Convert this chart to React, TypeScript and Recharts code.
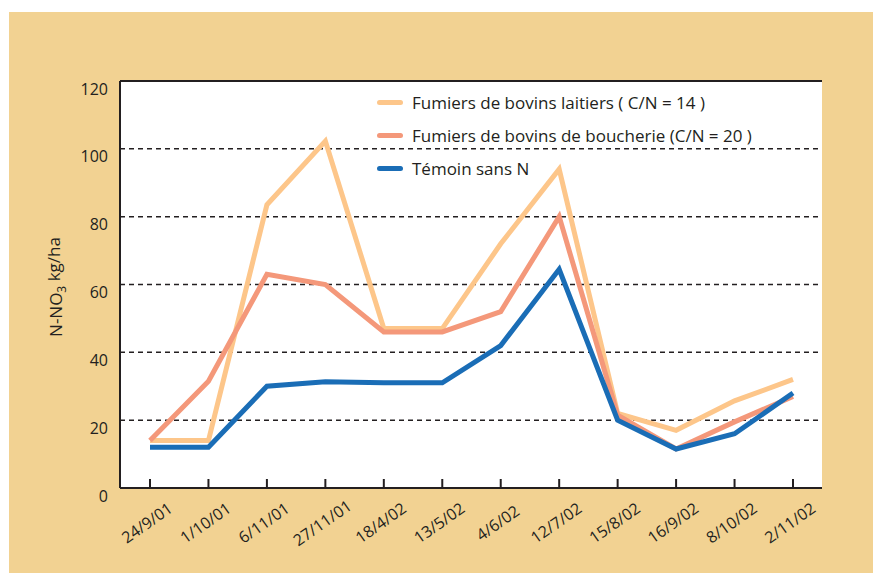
import React from "react";
import { LineChart, Line, XAxis, YAxis, CartesianGrid, ReferenceLine } from "recharts";

const dates = ["24/9/01", "1/10/01", "6/11/01", "27/11/01", "18/4/02", "13/5/02", "4/6/02", "12/7/02", "15/8/02", "16/9/02", "8/10/02", "2/11/02"];
const laitiers = [14, 14, 83.5, 102.3, 47, 47, 72, 94, 22, 17, 25.7, 32];
const boucherie = [14, 31.5, 63, 60, 46, 46, 52, 80, 21.5, 11.5, 19.5, 27];
const temoin = [12, 12, 30, 31.3, 31, 31, 42, 64.5, 20, 11.5, 16, 28];
const yTicks = [0, 20, 40, 60, 80, 100, 120];

const seriesKeys = ["laitiers", "boucherie", "temoin"];
const seriesNames = [
  "Fumiers de bovins laitiers ( C/N = 14 )",
  "Fumiers de bovins de boucherie (C/N = 20 )",
  "Témoin sans N",
];
const seriesColors = ["#FDC68A", "#F4987A", "#1A6DB6"];

const data = dates.map((d, i) => ({
  date: d,
  laitiers: laitiers[i],
  boucherie: boucherie[i],
  temoin: temoin[i],
}));

const INK = "#231F20";
const FONT = "'Open Sans', sans-serif";

const XTick = (props: any) => {
  const { x, y, payload } = props;
  return (
    <g>
      <line x1={x} y1={y} x2={x} y2={y - 9} stroke={INK} strokeWidth={2} />
      <text
        transform={`translate(${x - 3}, ${y + 35}) rotate(-35)`}
        textAnchor="middle"
        dy="0.35em"
        fill={INK}
        fontSize={16}
        fontFamily={FONT}
      >
        {payload.value}
      </text>
    </g>
  );
};

const YTick = (props: any) => {
  const { x, y, payload } = props;
  return (
    <text x={x} y={y + 8} dy="0.35em" textAnchor="end" fill={INK} fontSize={16} fontFamily={FONT}>
      {payload.value}
    </text>
  );
};

function LegendBox() {
  return (
    <div style={{ position: "absolute", left: 377, top: 86, fontFamily: FONT, fontSize: 17, color: INK }}>
      {seriesNames.map((name, i) => (
        <div key={name} style={{ height: 33, display: "flex", alignItems: "center" }}>
          <span
            style={{
              display: "inline-block",
              width: 26,
              height: 5,
              borderRadius: 3,
              background: seriesColors[i],
              marginRight: 9,
            }}
          />
          <span style={{ whiteSpace: "nowrap" }}>{name}</span>
        </div>
      ))}
    </div>
  );
}

export default function App() {
  return (
    <div style={{ position: "absolute", left: 0, top: 0, width: 873, height: 573, background: "#FFFFFF" }}>
      <div style={{ position: "absolute", left: 9, top: 12, width: 864, height: 561, background: "#F2D292" }} />
      <div style={{ position: "absolute", left: 0, top: 0 }}>
        <LineChart width={873} height={573} data={data} margin={{ top: 81, right: 51, bottom: 0, left: 0 }}>
          <CartesianGrid vertical={false} stroke={INK} strokeDasharray="5 4" strokeWidth={1.5} fill="#FFFFFF" fillOpacity={1} />
          <XAxis
            dataKey="date"
            interval={0}
            padding={{ left: 30, right: 29 }}
            height={85}
            tickLine={false}
            tickSize={0}
            tickMargin={0}
            axisLine={{ stroke: INK, strokeWidth: 2 }}
            tick={<XTick />}
          />
          <YAxis
            domain={[0, 120]}
            ticks={yTicks}
            width={120}
            tickLine={false}
            tickSize={0}
            tickMargin={12}
            axisLine={{ stroke: INK, strokeWidth: 2 }}
            tick={<YTick />}
          />
          <YAxis
            yAxisId="right"
            orientation="right"
            domain={[0, 120]}
            width={0}
            tick={false}
            tickLine={false}
            axisLine={{ stroke: INK, strokeWidth: 2 }}
          />
          <ReferenceLine y={120} stroke={INK} strokeWidth={2} />
          {seriesKeys.map((k, i) => (
            <Line
              key={k}
              dataKey={k}
              name={seriesNames[i]}
              stroke={seriesColors[i]}
              strokeWidth={5}
              dot={false}
              activeDot={false}
              isAnimationActive={false}
              strokeLinejoin="miter"
            />
          ))}
          <text
            transform="translate(56, 287) rotate(-90)"
            textAnchor="middle"
            dy="0.35em"
            fill={INK}
            fontSize={17}
            fontFamily={FONT}
          >
            <tspan>N-NO</tspan>
            <tspan fontSize={12} dy="0.3em">3</tspan>
            <tspan dy="-0.3em"> kg/ha</tspan>
          </text>
        </LineChart>
      </div>
      <LegendBox />
    </div>
  );
}
